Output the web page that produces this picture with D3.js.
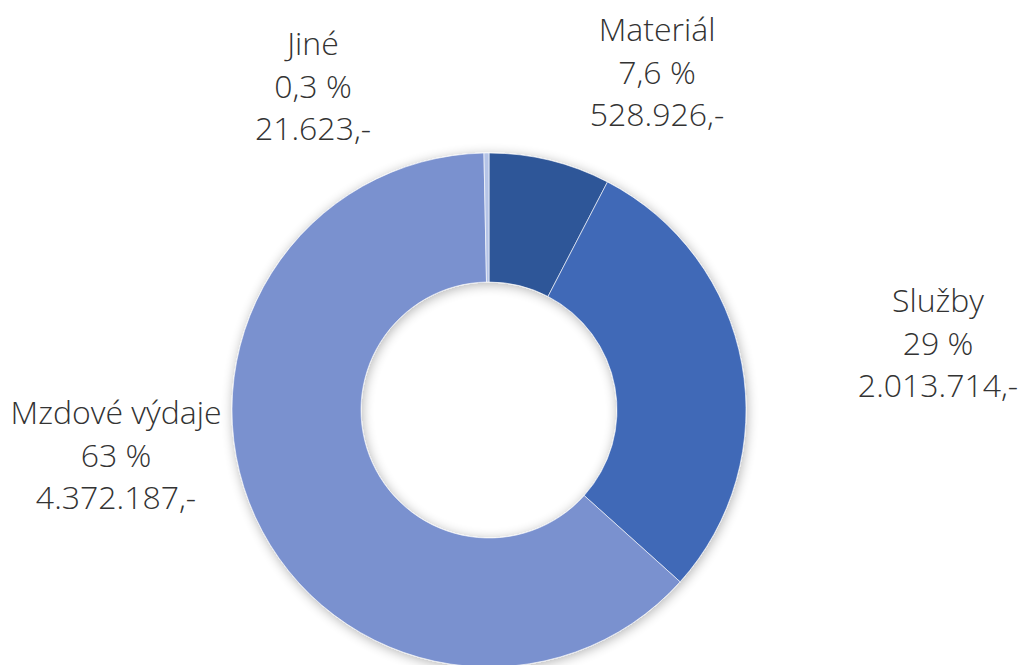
<html>
<head>
  <meta charset="utf-8">
  <title>Výdaje</title>
</head>
<style>
  body {
    margin: 0;
    background: #fff;
  }

  .lbl {
    font-family: "Open Sans", sans-serif;
    font-weight: 300;
    font-size: 32px;
    fill: #333;
  }
</style>

<body>
  <div id="chart"></div>
</body>

<script src="https://cdn.jsdelivr.net/npm/d3@7"></script>
<script>

  // data (clockwise from 12 o'clock)
  let categories = ["Materiál", "Služby", "Mzdové výdaje", "Jiné"];
  let values = [528926, 2013714, 4372187, 21623];
  let pctLabels = ["7,6 %", "29 %", "63 %", "0,3 %"];
  let colors = ["#2f5698", "#4069b7", "#7a91cf", "#b5c4e7"];

  // where each label block sits (centre x, first baseline)
  let labelPos = {
    "Materiál": [657, 41],
    "Služby": [938, 312],
    "Mzdové výdaje": [116, 424],
    "Jiné": [313, 55]
  };

  let width = 1025, height = 665;
  let cx = 489, cy = 410, outerR = 257, innerR = 128;

  let cz = d3.formatLocale({ decimal: ",", thousands: ".", grouping: [3], currency: ["", ""] });
  let fmt = cz.format(",");

  let svg = d3.select("#chart").append("svg")
    .attr("width", width)
    .attr("height", height);

  // soft shadow round the ring
  let f = svg.append("defs").append("filter")
    .attr("id", "shadow")
    .attr("x", "-20%").attr("y", "-20%")
    .attr("width", "140%").attr("height", "140%");
  f.append("feGaussianBlur").attr("in", "SourceAlpha").attr("stdDeviation", 6).attr("result", "b");
  f.append("feOffset").attr("in", "b").attr("dx", 1).attr("dy", 2).attr("result", "o");
  f.append("feComponentTransfer").attr("in", "o").attr("result", "s")
    .append("feFuncA").attr("type", "linear").attr("slope", 0.3);
  let m = f.append("feMerge");
  m.append("feMergeNode").attr("in", "s");
  m.append("feMergeNode").attr("in", "SourceGraphic");

  let pie = d3.pie().sort(null).value(d => d.value);
  let arc = d3.arc().innerRadius(innerR).outerRadius(outerR);

  let rows = categories.map((c, i) => ({ name: c, value: values[i], pct: pctLabels[i], color: colors[i] }));

  let g = svg.append("g")
    .attr("transform", `translate(${cx},${cy})`)
    .attr("filter", "url(#shadow)");

  g.selectAll("path")
    .data(pie(rows))
    .join("path")
    .attr("d", arc)
    .attr("fill", d => d.data.color)
    .attr("stroke", "rgba(255,255,255,0.6)")
    .attr("stroke-width", 1);

  // labels
  let lh = 42.5;
  rows.forEach(r => {
    let p = labelPos[r.name];
    let t = svg.append("text")
      .attr("class", "lbl")
      .attr("text-anchor", "middle");
    [r.name, r.pct, fmt(r.value) + ",-"].forEach((s, k) => {
      t.append("tspan").attr("x", p[0]).attr("y", p[1] + k * lh).text(s);
    });
  });

</script>

</html>
